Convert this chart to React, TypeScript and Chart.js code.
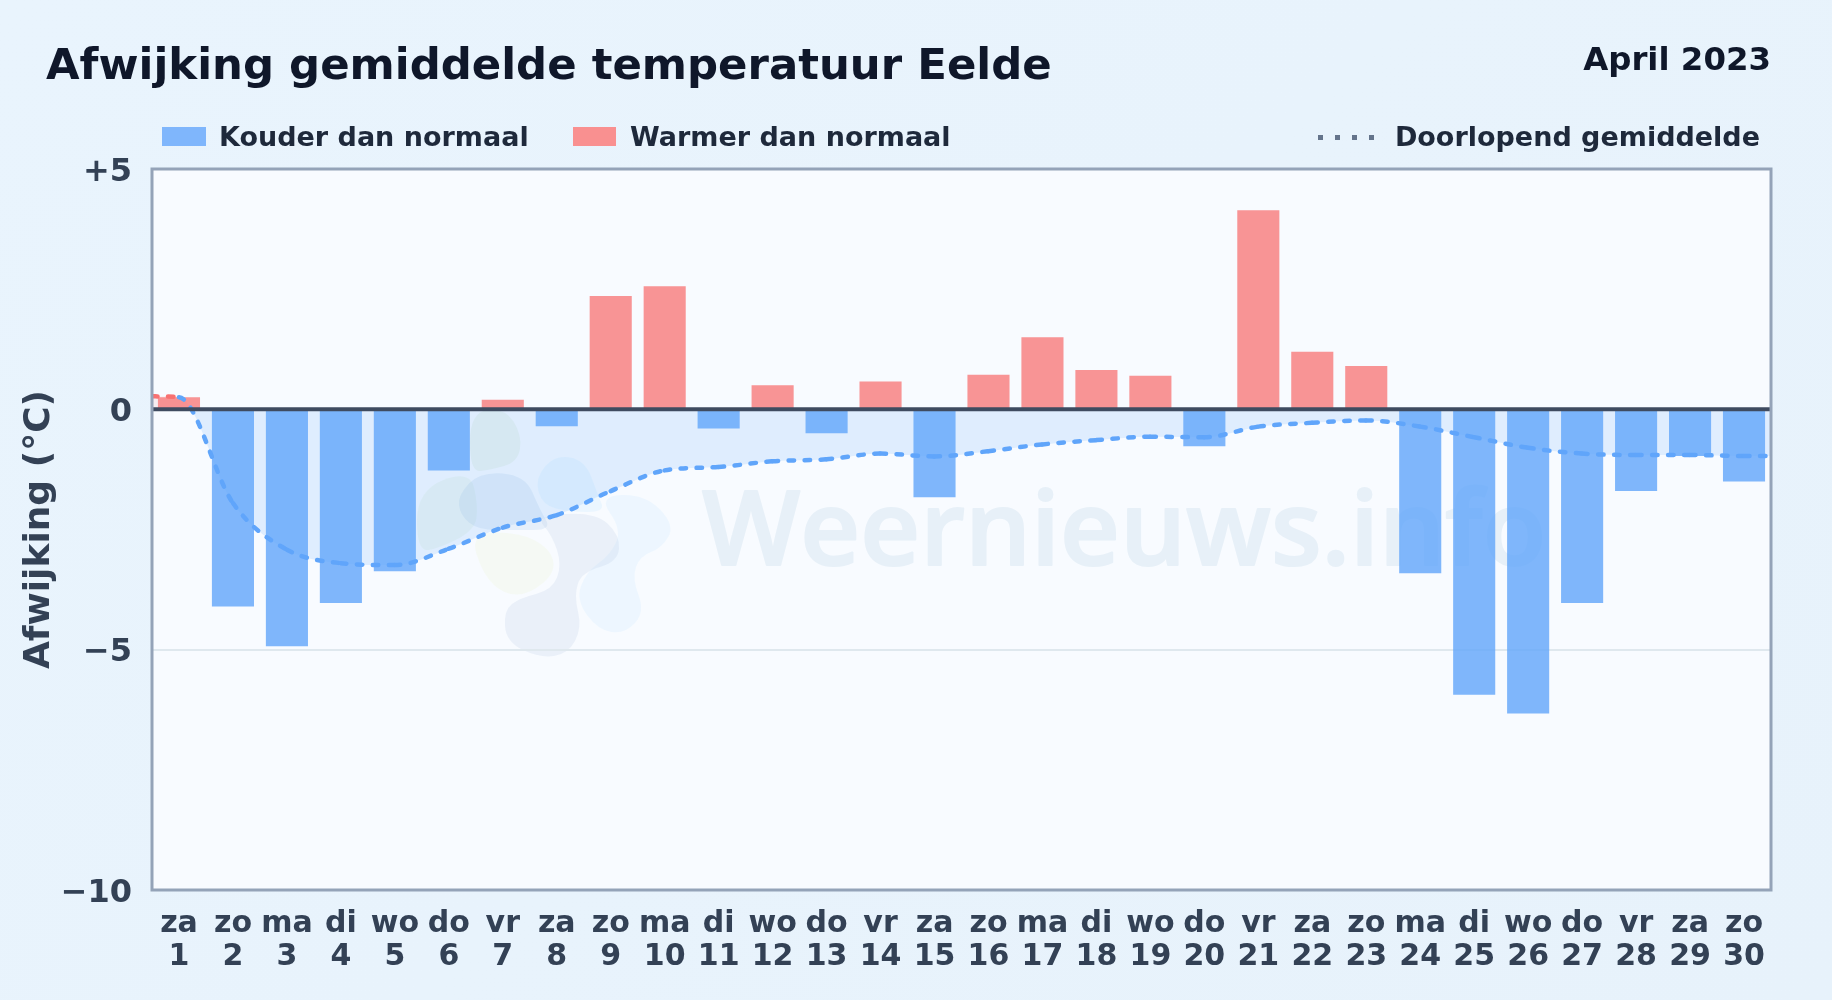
import React, { useEffect, useRef } from "react";
import { Chart, registerables } from "chart.js";

Chart.register(...registerables);

const weekdays = ["za","zo","ma","di","wo","do","vr","za","zo","ma","di","wo","do","vr","za","zo","ma","di","wo","do","vr","za","zo","ma","di","wo","do","vr","za","zo"];
const days = ["1","2","3","4","5","6","7","8","9","10","11","12","13","14","15","16","17","18","19","20","21","22","23","24","25","26","27","28","29","30"];
const deviation = [0.25,-4.1,-4.93,-4.03,-3.37,-1.27,0.2,-0.35,2.36,2.56,-0.4,0.5,-0.5,0.58,-1.83,0.72,1.5,0.82,0.7,-0.77,4.14,1.2,0.9,-3.41,-5.94,-6.33,-4.03,-1.7,-0.97,-1.5];
const runningX = [0.5,1,2,3,4,5,6,7,8,9,10,11,12,13,14,15,16,17,18,19,20,21,22,23,24,25,26,27,28,29,30,30.5];
const runningMean = [0.27,0.25,-1.95,-2.92,-3.2,-3.24,-2.9,-2.46,-2.2,-1.7,-1.27,-1.2,-1.08,-1.04,-0.92,-0.98,-0.87,-0.73,-0.64,-0.57,-0.58,-0.36,-0.28,-0.23,-0.36,-0.58,-0.8,-0.92,-0.95,-0.95,-0.97,-0.97];
const yTicks = [-10, -5, 0, 5];

const BLUE = "rgba(96,165,250,0.8)";
const RED = "rgba(248,113,113,0.75)";
const LINE_RED = "#f87171";
const FONT = "'DejaVu Sans', sans-serif";

type Pt = [number, number];
const blobs: { c: string; p: Pt[] }[] = [
  { c: "rgba(200,225,190,0.22)", p: [[470,412],[505,408],[522,435],[518,462],[490,470],[470,472]] },
  { c: "rgba(200,225,190,0.18)", p: [[417,490],[470,470],[478,505],[475,530],[440,548],[417,552]] },
  { c: "rgba(150,190,230,0.18)", p: [[458,495],[480,472],[525,475],[540,510],[552,530],[515,530],[478,530],[460,515]] },
  { c: "rgba(150,210,255,0.12)", p: [[535,478],[555,455],[585,460],[598,495],[605,512],[570,512],[542,505]] },
  { c: "rgba(190,225,255,0.18)", p: [[598,496],[645,494],[675,525],[662,548],[640,556],[632,578],[645,612],[625,634],[598,630],[576,600],[586,572],[610,555],[622,530]] },
  { c: "rgba(235,245,200,0.2)", p: [[470,533],[518,532],[550,548],[556,572],[530,594],[505,595],[483,575]] },
  { c: "rgba(180,200,225,0.2)", p: [[535,516],[595,512],[620,535],[618,562],[582,572],[574,595],[582,628],[568,654],[540,658],[506,642],[504,610],[520,598],[552,590],[562,565],[552,535]] },
];

function drawBlob(ctx: CanvasRenderingContext2D, p: Pt[], c: string) {
  ctx.beginPath();
  const mid = (a: Pt, b: Pt): Pt => [(a[0] + b[0]) / 2, (a[1] + b[1]) / 2];
  const start = mid(p[p.length - 1], p[0]);
  ctx.moveTo(start[0], start[1]);
  p.forEach((pt, i) => {
    const m = mid(pt, p[(i + 1) % p.length]);
    ctx.quadraticCurveTo(pt[0], pt[1], m[0], m[1]);
  });
  ctx.closePath();
  ctx.fillStyle = c;
  ctx.fill();
}

const plotDecor = {
  id: "plotDecor",
  beforeDraw(chart: any) {
    const { ctx, chartArea: a } = chart;
    ctx.save();
    ctx.fillStyle = "#f8fbff";
    ctx.fillRect(a.left, a.top, a.right - a.left, a.bottom - a.top);
    blobs.forEach((b) => drawBlob(ctx, b.p, b.c));
    ctx.font = "600 104px 'Open Sans', sans-serif";
    ctx.fillStyle = "#e7f0f8";
    ctx.strokeStyle = "#e7f0f8";
    ctx.lineWidth = 2;
    ctx.lineJoin = "round";
    ctx.textBaseline = "alphabetic";
    ctx.fillText("Weernieuws.info", 702, 565);
    ctx.strokeText("Weernieuws.info", 702, 565);
    ctx.restore();
  },
  afterDatasetsDraw(chart: any) {
    const { ctx, chartArea: a, scales } = chart;
    const y0 = scales.y.getPixelForValue(0);
    ctx.save();
    ctx.strokeStyle = "#3f4b60";
    ctx.lineWidth = 4;
    ctx.beginPath();
    ctx.moveTo(a.left, y0);
    ctx.lineTo(a.right, y0);
    ctx.stroke();
    ctx.strokeStyle = "#94a3b8";
    ctx.lineWidth = 3;
    ctx.strokeRect(a.left, a.top, a.right - a.left, a.bottom - a.top);
    ctx.restore();
  },
};

const abs = (style: React.CSSProperties): React.CSSProperties => ({ position: "absolute", whiteSpace: "nowrap", fontFamily: FONT, fontWeight: 700, ...style });

export default function App() {
  const ref = useRef<HTMLCanvasElement>(null);
  useEffect(() => {
    const runningPoints = runningX.map((x, i) => ({ x, y: runningMean[i] }));
    const chart = new Chart(ref.current!, {
      type: "bar",
      data: {
        datasets: [
          {
            type: "bar",
            label: "Afwijking",
            data: deviation.map((y, i) => ({ x: i + 1, y })),
            backgroundColor: deviation.map((v) => (v < 0 ? BLUE : RED)),
            barPercentage: 0.78,
            categoryPercentage: 1,
            order: 2,
          },
          {
            type: "line",
            label: "Vlak",
            data: runningPoints,
            order: 3,
            borderWidth: 0,
            borderColor: "rgba(0,0,0,0)",
            pointRadius: 0,
            cubicInterpolationMode: "monotone",
            fill: { target: "origin", above: "rgba(248,113,113,0.1)", below: "rgba(96,165,250,0.16)" },
          },
          {
            type: "line",
            label: "Doorlopend gemiddelde",
            data: runningPoints,
            order: 1,
            borderWidth: 4.5,
            borderColor: "#60a5fa",
            borderDash: [5.5, 10.5],
            borderCapStyle: "round",
            pointRadius: 0,
            cubicInterpolationMode: "monotone",
            fill: false,
            segment: {
              borderColor: (c: any) =>
                c.p0.parsed.y > 0 && c.p1.parsed.y > 0 ? LINE_RED : c.p0DataIndex % 2 ? "#60a5fa" : "#60a5fb",
            },
          },
        ] as any,
      },
      options: {
        responsive: false,
        animation: false,
        devicePixelRatio: 1,
        layout: { padding: { top: 169, right: 61, left: 0, bottom: 0 } },
        plugins: {
          legend: { display: false },
          title: { display: false },
          tooltip: { enabled: false },
          filler: { drawTime: "beforeDatasetsDraw" },
        },
        scales: {
          x: {
            type: "linear",
            offset: false,
            min: 0.5,
            max: 30.5,
            afterBuildTicks(axis: any) { axis.ticks = days.map((d) => ({ value: Number(d) })); },
            grid: { display: false },
            border: { display: false },
            ticks: {
              autoSkip: false,
              maxRotation: 0,
              minRotation: 0,
              padding: 10,
              color: "#334155",
              font: { family: FONT, weight: "bold", size: 30, lineHeight: 1.1 },
              callback: (v: any) => [weekdays[v - 1], days[v - 1]],
            },
            afterFit(axis: any) { axis.height = 110; },
          },
          y: {
            min: -10,
            max: 5,
            afterBuildTicks(axis: any) { axis.ticks = yTicks.map((value) => ({ value })); },
            border: { display: false },
            grid: {
              drawTicks: false,
              lineWidth: 2,
              color: (c: any) => (c.tick && c.tick.value === -5 ? "#dfe8ee" : "rgba(0,0,0,0)"),
            },
            ticks: {
              padding: 20,
              color: "#334155",
              font: { family: FONT, weight: "bold", size: 32, lineHeight: "7px" },
              callback: (v: any) => ["", v > 0 ? "+" + v : v < 0 ? "\u2212" + Math.abs(v) : "0"],
            },
            title: {
              display: true,
              text: "Afwijking (\u00b0C)",
              color: "#334155",
              font: { family: FONT, weight: "bold", size: 36 },
              padding: { top: 18.5, bottom: 0 },
            },
            afterFit(axis: any) { axis.width = 152; },
          },
        },
      } as any,
      plugins: [plotDecor],
    });
    return () => chart.destroy();
  }, []);

  return (
    <div style={{ position: "fixed", left: 0, top: 0, width: 1832, height: 1000, overflow: "hidden", background: "linear-gradient(135deg,#e9f4fd,#e7f2fb)" }}>
      <canvas ref={ref} width={1832} height={1000} style={{ position: "absolute", left: 0, top: 0, width: 1832, height: 1000 }} />
      <div style={abs({ left: 46, top: 39, fontSize: 43.4, lineHeight: "50px", color: "#0f172a" })}>Afwijking gemiddelde temperatuur Eelde</div>
      <div style={abs({ right: 61, top: 40, fontSize: 32.4, lineHeight: "38px", color: "#0f172a" })}>April 2023</div>
      <div style={abs({ left: 162, top: 127, width: 44, height: 19, background: "#7fb6fc" })} />
      <div style={abs({ left: 219, top: 120, fontSize: 27, lineHeight: "34px", color: "#1e293b" })}>Kouder dan normaal</div>
      <div style={abs({ left: 573, top: 127, width: 43, height: 19, background: "#f99090" })} />
      <div style={abs({ left: 630, top: 120, fontSize: 27, lineHeight: "34px", color: "#1e293b" })}>Warmer dan normaal</div>
      {[0, 1, 2, 3].map((i) => (
        <div key={i} style={abs({ left: 1318 + i * 17, top: 135, width: 5, height: 5, background: "#64748b" })} />
      ))}
      <div style={abs({ right: 72, top: 120, fontSize: 27, lineHeight: "34px", color: "#1e293b" })}>Doorlopend gemiddelde</div>
    </div>
  );
}
